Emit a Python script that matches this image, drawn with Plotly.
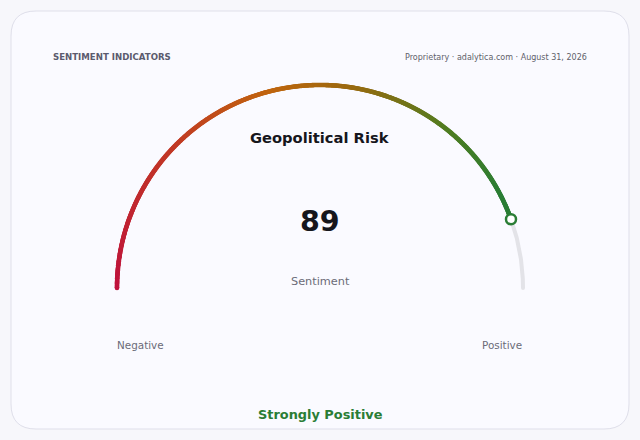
import numpy as np
import plotly.graph_objects as go

# data
indicator = "Geopolitical Risk"
value = 89
vmin, vmax = 0, 100
caption = "Sentiment"
low_label, high_label = "Negative", "Positive"
verdict = "Strongly Positive"
header_left = "SENTIMENT INDICATORS"
header_right = "Proprietary · adalytica.com · August 31, 2026"

W, H = 640, 440
cx, cy, r = 320, 288, 203
font = "DejaVu Sans"

def to_xy(v):
  ang = np.pi * (1 - (v - vmin) / (vmax - vmin))
  return cx + r * np.cos(ang), cy - r * np.sin(ang)

fig = go.Figure()

# card
fig.add_shape(type="path", xref="x", yref="y",
  path="M 36 11 L 604 11 Q 629 11 629 36 L 629 404 Q 629 429 604 429 L 36 429 Q 11 429 11 404 L 11 36 Q 11 11 36 11 Z",
  fillcolor="#fafaff", line=dict(color="#dfdfea", width=1), layer="below")

# remaining track
rest = np.linspace(value, vmax, 80)
rx, ry = to_xy(rest)
fig.add_trace(go.Scatter(x=rx, y=ry, mode="lines", line=dict(color="#e3e3e8", width=4),
  hoverinfo="skip", showlegend=False))
fig.add_trace(go.Scatter(x=rx[-1:], y=ry[-1:], mode="markers",
  marker=dict(color="#e3e3e8", size=4), hoverinfo="skip", showlegend=False))

# gradient filled arc
filled = np.linspace(vmin, value, 700)
fx, fy = to_xy(filled)
fig.add_trace(go.Scatter(x=fx, y=fy, mode="markers",
  marker=dict(size=4.6, color=filled, cmin=vmin, cmax=vmax, line=dict(width=0),
    colorscale=[[0, "#bf123d"], [0.25, "#c13a25"], [0.42, "#c0650f"], [0.55, "#9a6a10"],
                [0.72, "#4f7d22"], [0.85, "#2a7d35"], [1, "#2a7d35"]]),
  hoverinfo="skip", showlegend=False))

# value marker
px_, py_ = to_xy(value)
fig.add_trace(go.Scatter(x=[px_], y=[py_], mode="markers",
  marker=dict(size=10, color="#ffffff", line=dict(color="#2a7d35", width=2.5)),
  hoverinfo="skip", showlegend=False))

def txt(x, y, s, size, color, anchor="center", bold=False):
  fig.add_annotation(x=x, y=y, xref="x", yref="y", text="<b>%s</b>" % s if bold else s,
    showarrow=False, xanchor=anchor, yanchor="middle",
    font=dict(family=font, size=size, color=color))

txt(51, 57, header_left, 8.6, "#5b5b6e", "left", True)
txt(589, 57, header_right, 8, "#5f5f6a", "right")
txt(320, 137, indicator, 14.7, "#16161c", bold=True)
txt(320, 221, str(value), 28.5, "#16161c", bold=True)
txt(320, 281, caption, 11.3, "#6b6b78")
txt(115, 345, low_label, 10.4, "#6b6b78", "left")
txt(524, 345, high_label, 10.4, "#6b6b78", "right")
txt(320, 414, verdict, 12.9, "#2a7d35", bold=True)

fig.update_xaxes(range=[0, W], visible=False, fixedrange=True)
fig.update_yaxes(range=[H, 0], visible=False, fixedrange=True)
fig.update_layout(width=W, height=H, margin=dict(l=0, r=0, t=0, b=0),
  paper_bgcolor="#f7f7fb", plot_bgcolor="rgba(0,0,0,0)")

fig.write_html("out.html", config={"displayModeBar": False},
  post_script="document.body.style.margin='0';document.body.style.overflow='hidden';")
